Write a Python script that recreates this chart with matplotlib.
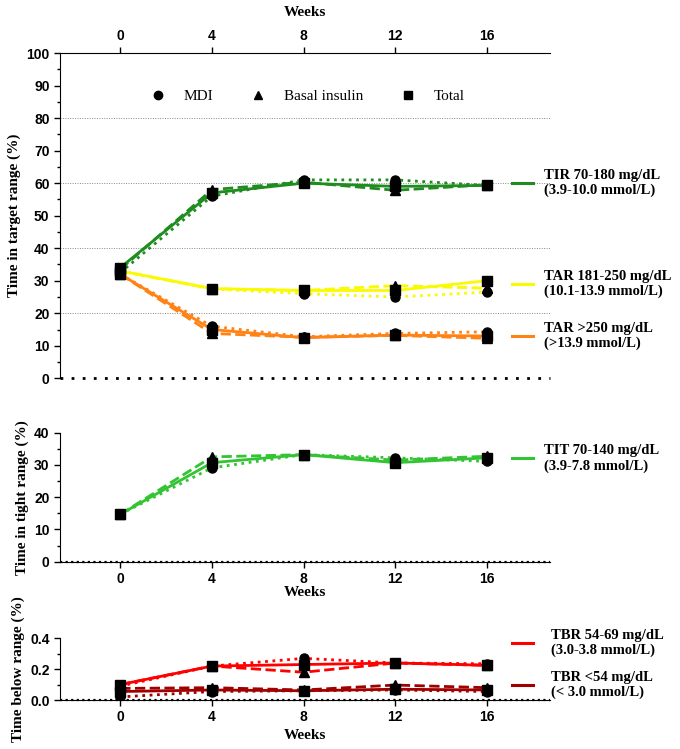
import numpy as np
import matplotlib
matplotlib.use("Agg")
import matplotlib.pyplot as plt
from matplotlib.lines import Line2D

# ------------------
# Data
# ------------------
weeks = [0, 4, 8, 12, 16]
groups = ["MDI", "Basal insulin", "Total"]

tir_mdi = [32.5, 56.0, 61.0, 61.0, 59.3]
tir_basal = [33.5, 58.0, 60.3, 57.8, 59.5]
tir_total = [34.0, 57.0, 60.0, 59.0, 59.3]

tar1_mdi = [33.0, 27.5, 26.0, 25.0, 26.5]
tar1_basal = [33.0, 27.5, 27.0, 28.5, 27.7]
tar1_total = [33.0, 27.6, 27.0, 27.0, 30.0]

tar2_mdi = [32.0, 16.0, 12.8, 13.8, 14.3]
tar2_basal = [32.0, 13.8, 12.6, 13.2, 12.3]
tar2_total = [32.0, 15.0, 12.5, 13.3, 13.0]

tit_mdi = [14.7, 29.1, 33.2, 32.2, 31.1]
tit_basal = [14.7, 32.5, 33.2, 31.5, 32.7]
tit_total = [14.7, 30.7, 33.2, 30.7, 32.2]

tbr1_mdi = [0.09, 0.22, 0.27, 0.24, 0.235]
tbr1_basal = [0.10, 0.22, 0.18, 0.24, 0.225]
tbr1_total = [0.10, 0.22, 0.23, 0.24, 0.225]

tbr2_mdi = [0.02, 0.055, 0.06, 0.065, 0.055]
tbr2_basal = [0.075, 0.08, 0.065, 0.097, 0.08]
tbr2_total = [0.055, 0.065, 0.06, 0.07, 0.065]

# ------------------
# Style
# ------------------
SERIF = "Liberation Serif"
SANS = "Liberation Sans"
C_TIR = "#1e8c1e"
C_TAR1 = "#fafa00"
C_TAR2 = "#ff8214"
C_TIT = "#33c433"
C_TBR1 = "#ff0000"
C_TBR2 = "#a00000"

STYLES = [(":", "o"), ("--", "^"), ("-", "s")]  # MDI, basal, total
XLIM = (-2.63, 18.75)


def plot_metric(ax, series, color):
    for ys, (ls, mk) in zip(series, STYLES):
        ax.plot(weeks, ys, color=color, ls=ls, lw=2.0, zorder=2)
    for ys, (ls, mk) in zip(series, STYLES):
        ax.plot(weeks, ys, ls="none", marker=mk, color="black", ms=6.5, zorder=3)


def side_label(ax, y, text, color, x_text=18.5):
    ax.plot([17.1, 18.0], [y, y], color=color, lw=2.2, clip_on=False)
    ax.text(x_text, y, text, fontfamily=SERIF, fontweight="bold", fontsize=10.5,
            va="center", ha="left", clip_on=False, linespacing=1.15)


def style_axis(ax, ylabel):
    ax.set_xlim(*XLIM)
    ax.set_xticks(weeks)
    ax.spines["right"].set_visible(False)
    ax.tick_params(axis="both", labelsize=10, width=1, length=4, direction="out")
    ax.tick_params(axis="y", which="minor", length=2.5, width=1)
    for lab in ax.get_xticklabels() + ax.get_yticklabels():
        lab.set_fontfamily(SANS)
        lab.set_fontweight("bold")
    ax.set_ylabel(ylabel, fontfamily=SERIF, fontweight="bold", fontsize=11)


fig = plt.figure(figsize=(6.8, 7.49), dpi=100)

# ------------------
# Top panel
# ------------------
ax1 = fig.add_axes([0.0882, 0.4949, 0.7206, 0.4343])
plot_metric(ax1, [tar2_mdi, tar2_basal, tar2_total], C_TAR2)
plot_metric(ax1, [tar1_mdi, tar1_basal, tar1_total], C_TAR1)
plot_metric(ax1, [tir_mdi, tir_basal, tir_total], C_TIR)
ax1.set_ylim(0, 100)
ax1.set_yticks(np.arange(0, 101, 10))
ax1.set_yticks(np.arange(0, 101, 5), minor=True)
for yv in [20, 40, 60, 80]:
    ax1.axhline(yv, color="#888888", ls=(0, (1, 1.5)), lw=0.7, zorder=1)
ax1.axhline(0, color="black", ls=(0, (1, 3)), lw=2, clip_on=False, zorder=1)
ax1.spines["bottom"].set_visible(False)
ax1.xaxis.tick_top()
ax1.xaxis.set_label_position("top")
style_axis(ax1, "Time in target range (%)")
ax1.set_xlabel("Weeks", fontfamily=SERIF, fontweight="bold", fontsize=11, labelpad=9)

handles = [Line2D([], [], ls="none", marker=mk, color="black", ms=6) for ls, mk in STYLES]
ax1.legend(handles, groups, ncol=3, loc="center", bbox_to_anchor=(0.505, 0.866),
           frameon=False, prop={"family": SERIF, "size": 11}, handlelength=1,
           handletextpad=1.2, columnspacing=2.4)

side_label(ax1, 60, "TIR 70-180 mg/dL\n(3.9-10.0 mmol/L)", C_TIR)
side_label(ax1, 29, "TAR 181-250 mg/dL\n(10.1-13.9 mmol/L)", C_TAR1)
side_label(ax1, 13, "TAR >250 mg/dL\n(>13.9 mmol/L)", C_TAR2)

# ------------------
# Middle panel
# ------------------
ax2 = fig.add_axes([0.0882, 0.2501, 0.7206, 0.1722])
plot_metric(ax2, [tit_mdi, tit_basal, tit_total], C_TIT)
ax2.set_ylim(0, 40)
ax2.set_yticks(np.arange(0, 41, 10))
ax2.set_yticks(np.arange(0, 41, 5), minor=True)
ax2.spines["top"].set_visible(False)
ax2.axhline(0, color="black", ls=(0, (1, 1.5)), lw=1.6, clip_on=False, zorder=1)
style_axis(ax2, "Time in tight range (%)")
ax2.set_xlabel("Weeks", fontfamily=SERIF, fontweight="bold", fontsize=11, labelpad=0)
side_label(ax2, 32, "TIT 70-140 mg/dL\n(3.9-7.8 mmol/L)", C_TIT)

# ------------------
# Bottom panel
# ------------------
ax3 = fig.add_axes([0.0882, 0.0654, 0.7206, 0.0824])
plot_metric(ax3, [tbr2_mdi, tbr2_basal, tbr2_total], C_TBR2)
plot_metric(ax3, [tbr1_mdi, tbr1_basal, tbr1_total], C_TBR1)
ax3.set_ylim(0, 0.4)
ax3.set_yticks([0.0, 0.2, 0.4])
ax3.set_yticks([0.0, 0.1, 0.2, 0.3, 0.4], minor=True)
ax3.set_yticklabels(["0.0", "0.2", "0.4"])
ax3.spines["top"].set_visible(False)
ax3.axhline(0, color="black", ls=(0, (1, 1.5)), lw=1.6, clip_on=False, zorder=1)
style_axis(ax3, "Time below range (%)")
ax3.set_xlabel("Weeks", fontfamily=SERIF, fontweight="bold", fontsize=11, labelpad=3)
side_label(ax3, 0.37, "TBR 54-69 mg/dL\n(3.0-3.8 mmol/L)", C_TBR1, x_text=18.8)
side_label(ax3, 0.10, "TBR <54 mg/dL\n(< 3.0 mmol/L)", C_TBR2, x_text=18.8)

fig.align_ylabels([ax1, ax2, ax3])
fig.savefig("out.png", dpi=100)
